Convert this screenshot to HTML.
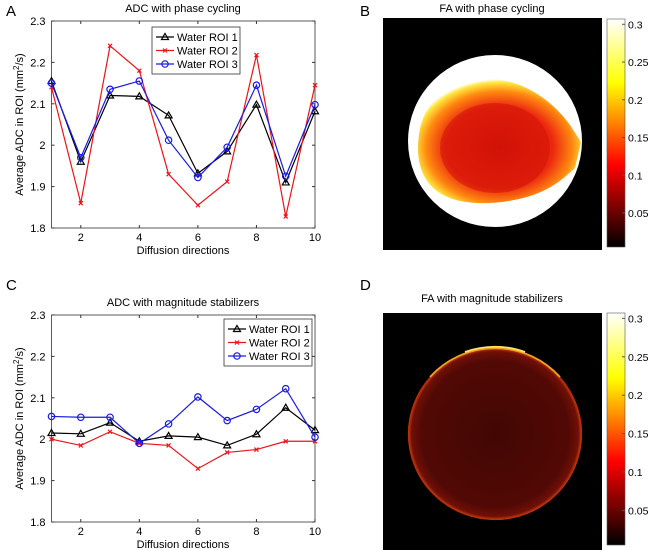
<!DOCTYPE html>
<html><head><meta charset="utf-8"><style>
body{margin:0;background:#fff;font-family:"Liberation Sans",sans-serif}
svg{display:block}
text{font-family:"Liberation Sans",sans-serif}
</style></head><body>
<svg id="fig" width="652" height="550" viewBox="0 0 652 550">
<defs>
<linearGradient id="hot" x1="0" y1="1" x2="0" y2="0">
<stop offset="0" stop-color="#000"/><stop offset="0.36" stop-color="#ff0000"/><stop offset="0.72" stop-color="#ffff00"/><stop offset="1" stop-color="#fff"/>
</linearGradient>
<radialGradient id="blobA" cx="0.5" cy="0.55" r="0.55">
<stop offset="0" stop-color="#d41206"/><stop offset="0.6" stop-color="#ec2810"/><stop offset="0.82" stop-color="#ff8a10"/><stop offset="0.95" stop-color="#ffe840"/><stop offset="1" stop-color="#fff"/>
</radialGradient>
<radialGradient id="diskB" cx="0.5" cy="0.5" r="0.5">
<stop offset="0" stop-color="#420703"/><stop offset="0.85" stop-color="#520905"/><stop offset="0.96" stop-color="#701006"/><stop offset="1" stop-color="#d04010"/>
</radialGradient>
</defs>
<g id="charts"></g>
<text x="6" y="16" font-size="15">A</text>
<text x="360" y="16" font-size="15">B</text>
<text x="6" y="290" font-size="15">C</text>
<text x="360" y="290" font-size="15">D</text>
<g>
<text x="492" y="12" font-size="11" text-anchor="middle">FA with phase cycling</text>
<rect x="383" y="18" width="219" height="232" fill="#000"/>
<ellipse cx="495" cy="141" rx="87" ry="86" fill="#fff"/>
<path d="M418,148 C418,100 450,79 490,79 C530,80 558,108 570,125 L581,142 L575,168 C560,182 540,200 490,203 C448,205 418,190 418,148 Z" fill="url(#blobA)"/>
<ellipse cx="495" cy="148" rx="55" ry="45" fill="#d01206" opacity="0.55"/>
</g>
<g>
<text x="492" y="302" font-size="11" text-anchor="middle">FA with magnitude stabilizers</text>
<rect x="383" y="313" width="219" height="237" fill="#000"/>
<ellipse cx="495" cy="434" rx="87" ry="86" fill="url(#diskB)"/>
<ellipse cx="495" cy="434" rx="86.5" ry="85.5" fill="none" stroke="#b83008" stroke-width="1.2"/>
<path d="M430,377 A87,86 0 0 1 560,377" fill="none" stroke="#f0a020" stroke-width="1.8"/>
<path d="M465,352 A87,86 0 0 1 525,352" fill="none" stroke="#ffe060" stroke-width="1.8"/>
</g>
<g id="cbars"></g>
</svg>
<script>
const categories=[1,2,3,4,5,6,7,8,9,10];
const xTicks=[2,4,6,8,10];
const yTicks=[1.8,1.9,2,2.1,2.2,2.3];
const yTickLabels=['1.8','1.9','2','2.1','2.2','2.3'];
const seriesNames=['Water ROI 1','Water ROI 2','Water ROI 3'];
const phaseRoi1=[2.155,1.96,2.12,2.118,2.072,1.932,1.985,2.098,1.91,2.082];
const phaseRoi2=[2.14,1.86,2.24,2.18,1.93,1.855,1.912,2.218,1.828,2.145];
const phaseRoi3=[2.15,1.97,2.135,2.155,2.012,1.922,1.995,2.145,1.925,2.098];
const magRoi1=[2.015,2.013,2.04,1.995,2.008,2.005,1.985,2.012,2.076,2.022];
const magRoi2=[2.0,1.985,2.018,1.99,1.985,1.929,1.968,1.975,1.995,1.995];
const magRoi3=[2.055,2.053,2.053,1.99,2.037,2.102,2.045,2.072,2.122,2.005];
const cbTicks=[0.05,0.1,0.15,0.2,0.25,0.3];
const cbLabels=['0.05','0.1','0.15','0.2','0.25','0.3'];
const NS='http://www.w3.org/2000/svg';
function mk(tag,attrs,parent){const e=document.createElementNS(NS,tag);for(const k in attrs)e.setAttribute(k,attrs[k]);parent.appendChild(e);return e;}
const colors=['#000','#e8141a','#1a1ae0'];
function marker(g,kind,x,y,c){
  let m;
  if(kind===0){m=mk('path',{d:`M${x},${y-3.5}L${x+3.5},${y+2.5}L${x-3.5},${y+2.5}Z`,fill:'none',stroke:c,'stroke-width':1.2},g);}
  else if(kind===1){m=mk('path',{d:`M${x-2},${y-2}L${x+2},${y+2}M${x-2},${y+2}L${x+2},${y-2}`,stroke:c,'stroke-width':1.2},g);}
  else {m=mk('circle',{cx:x,cy:y,r:3.2,fill:'none',stroke:c,'stroke-width':1.2},g);}
  
  
}
function chart(top,title,series,legendTop,id){
  const root=document.getElementById('charts');
  const g=mk('g',{},root);
  
  
  const x0=51.5,x1=315,y0=top,y1=top+207;
  const sx=v=>x0+(v-1)/9*(x1-x0);
  const sy=v=>y1-(v-1.8)/0.5*(y1-y0);
  const t=mk('text',{x:183,y:top-9,'font-size':11,'text-anchor':'middle'},g);t.textContent=title;
  
  
  const ax=mk('rect',{x:x0,y:y0,width:x1-x0,height:y1-y0,fill:'#fff',stroke:'#333','stroke-width':0.8},g);
  
  
  xTicks.forEach(v=>{const X=sx(v);mk('line',{x1:X,x2:X,y1:y1,y2:y1-3,stroke:'#333'},g);mk('line',{x1:X,x2:X,y1:y0,y2:y0+3,stroke:'#333'},g);
    const l=mk('text',{x:X,y:y1+13,'font-size':11,'text-anchor':'middle'},g);l.textContent=v;
    
    });
  yTicks.forEach((v,i)=>{const Y=sy(v);mk('line',{x1:x0,x2:x0+3,y1:Y,y2:Y,stroke:'#333'},g);mk('line',{x1:x1,x2:x1-3,y1:Y,y2:Y,stroke:'#333'},g);
    const l=mk('text',{x:x0-6,y:Y+4,'font-size':11,'text-anchor':'end'},g);l.textContent=yTickLabels[i];
    
    });
  const xt=mk('text',{x:183,y:y1+26,'font-size':11,'text-anchor':'middle'},g);xt.textContent='Diffusion directions';
  
  
  const yt=mk('text',{x:0,y:0,'font-size':11,'text-anchor':'middle',transform:`translate(23,${(y0+y1)/2}) rotate(-90)`},g);
  yt.innerHTML='Average ADC in ROI (mm<tspan dy="-4" font-size="8">2</tspan><tspan dy="4">/s)</tspan>';
  
  
  series.forEach((vals,si)=>{
    const sg=mk('g',{},g);
    
    
    mk('polyline',{points:vals.map((v,i)=>sx(categories[i])+','+sy(v)).join(' '),fill:'none',stroke:colors[si],'stroke-width':1.2},sg);
    vals.forEach((v,i)=>marker(sg,si,sx(categories[i]),sy(v),colors[si]));
  });
  const lx=legendTop[0],ly=legendTop[1];
  const lg=mk('g',{},g);
  
  
  mk('rect',{x:lx,y:ly,width:88,height:47,fill:'#fff',stroke:'#333','stroke-width':0.8},lg);
  seriesNames.forEach((n,i)=>{const yy=ly+10+i*13.5;
    mk('line',{x1:lx+4,x2:lx+22,y1:yy,y2:yy,stroke:colors[i],'stroke-width':1.2},lg);
    marker(lg,i,lx+13,yy,colors[i]);
    const tx=mk('text',{x:lx+25,y:yy+4,'font-size':11},lg);tx.textContent=n;
    
    });
}
chart(21,'ADC with phase cycling',[phaseRoi1,phaseRoi2,phaseRoi3],[152,27],'chart-adc-phase-cycling');
chart(315,'ADC with magnitude stabilizers',[magRoi1,magRoi2,magRoi3],[224,319],'chart-adc-magnitude');
function cbar(top,h,id){
  const g=mk('g',{},document.getElementById('cbars'));
  
  
  const vmin=0.005,vmax=0.307;
  mk('rect',{x:607,y:top,width:18,height:h,fill:'url(#hot)',stroke:'#555','stroke-width':0.6},g);
  cbTicks.forEach((v,i)=>{const Y=top+h-(v-vmin)/(vmax-vmin)*h;
    mk('line',{x1:622,x2:625,y1:Y,y2:Y,stroke:'#555'},g);
    const l=mk('text',{x:628,y:Y+4,'font-size':10.5},g);l.textContent=cbLabels[i];
    
    });
}
cbar(19,228,'colorbar-phase');
cbar(313,232,'colorbar-magnitude');
</script>
</body></html>
